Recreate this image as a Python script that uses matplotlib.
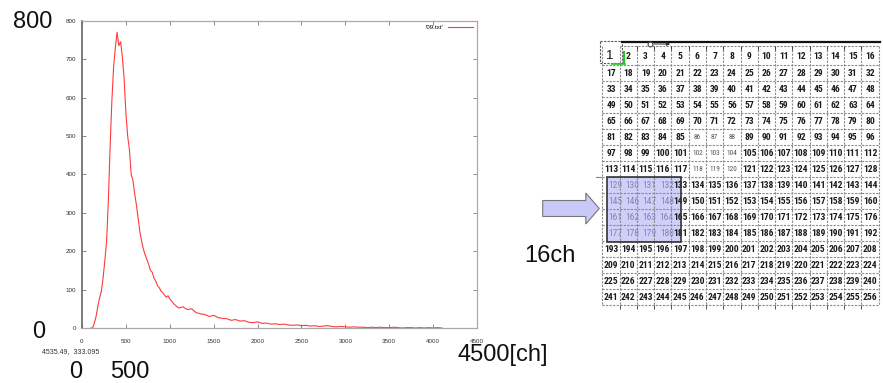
import numpy as np
import matplotlib.pyplot as plt
from matplotlib import patches
from matplotlib import font_manager

plt.rcParams['font.family'] = ['Liberation Sans', 'DejaVu Sans']

# spectrum read from '09.txt' (channel, counts)
channels = [100, 120, 140, 160, 180, 200, 220, 240, 260, 280, 300, 320, 340, 360, 380,
            400, 420, 440, 460, 480, 500, 520, 540, 560, 580, 600, 620, 640, 660, 680,
            700, 720, 740, 760, 780, 800, 820, 840, 860, 880, 900, 920, 940, 960, 980,
            1000, 1050, 1100, 1150, 1200, 1250, 1300, 1350, 1400, 1450, 1500, 1550, 1600,
            1650, 1700, 1750, 1800, 1850, 1900, 1950, 2000, 2050, 2100, 2150, 2200, 2250,
            2300, 2350, 2400, 2450, 2500, 2550, 2600, 2650, 2700, 2750, 2800, 2850, 2900,
            2950, 3000, 3050, 3100, 3150, 3200, 3250, 3300, 3350, 3400, 3450, 3500, 3550,
            3600, 3650, 3700, 3750, 3800, 3850, 3900, 3950, 4000, 4050, 4100]
counts = [0, 0, 12, 30, 55, 78, 95, 130, 175, 225, 330, 470, 590, 680, 730,
          770, 735, 745, 705, 650, 560, 500, 465, 400, 385, 350, 320, 285, 250, 225,
          205, 190, 178, 165, 150, 145, 130, 122, 110, 105, 96, 92, 86, 80, 84,
          76, 62, 52, 55, 48, 50, 40, 37, 35, 30, 33, 27, 25,
          24, 20, 22, 18, 19, 15, 14, 16, 12, 13, 10, 11, 9,
          10, 8, 7, 8, 6, 7, 5, 6, 4, 5, 6, 4, 3,
          4, 3, 2, 3, 2, 2, 1, 2, 1, 2, 1, 1, 2,
          1, 0, 1, 1, 0, 1, 0, 1, 0, 1, 0]

x_ticks = [0, 500, 1000, 1500, 2000, 2500, 3000, 3500, 4000, 4500]
y_ticks = [0, 100, 200, 300, 400, 500, 600, 700, 800]

# 16 x 16 channel map
n_cols = 16
n_rows = 16
cell_ids = np.arange(1, n_cols * n_rows + 1).reshape(n_rows, n_cols)
selected = [129, 130, 131, 132, 145, 146, 147, 148, 161, 162, 163, 164, 177, 178, 179, 180]
faint = [86, 87, 88, 102, 103, 104, 118, 119, 120]

# narrow face for the cell numbers if one is around
names = {f.name for f in font_manager.fontManager.ttflist}
narrow = 'Liberation Sans Narrow' if 'Liberation Sans Narrow' in names else 'Roboto Condensed'
if narrow not in names:
    narrow = 'Liberation Sans'

fig = plt.figure(figsize=(8.83, 3.83), dpi=100)

# --- spectrum ---
ax = fig.add_axes([82 / 883, 55 / 383, 395 / 883, 307.3 / 383])
ax.plot(channels, counts, color='#ff3a3a', lw=0.8, label="'09.txt'")
ax.set_xlim(0, 4500)
ax.set_ylim(0, 800)
ax.set_xticks(x_ticks)
ax.set_yticks(y_ticks)
ax.tick_params(direction='in', length=3, width=0.6, colors='#777777', labelsize=4.5,
               labelcolor='#333333', top=True, right=True, pad=4)
ax.tick_params(axis='x', pad=8)
for side in ax.spines:
    ax.spines[side].set_color('#aaaaaa')
    ax.spines[side].set_linewidth(0.9)
ax.spines['left'].set_color('#666666')
ax.spines['left'].set_linewidth(1.2)
ax.legend(loc='upper right', frameon=False, markerfirst=False, fontsize=4.5,
          handlelength=4, borderaxespad=0.2)

# --- overlay in pixel coordinates ---
ov = fig.add_axes([0, 0, 1, 1], zorder=-1)
ov.set_xlim(0, 883)
ov.set_ylim(383, 0)
ov.axis('off')

big = dict(fontsize=17, color='#111111', va='center')
ov.text(52, 22, '800', ha='right', **big)
ov.text(45, 332, '0', ha='right', **big)
ov.text(76, 372, '0', ha='center', **big)
ov.text(130, 372, '500', ha='center', **big)
ov.text(503, 355, '4500[ch]', ha='center', **big)
ov.text(550, 256, '16ch', ha='center', **big)
ov.text(71, 352, '4535.49,  333.095', ha='center', va='center', fontsize=5, color='#333333')

# arrow into the map
ov.add_patch(patches.FancyArrow(542.7, 208.5, 56.6, 0, width=16, head_width=31,
                                head_length=13.5, length_includes_head=True,
                                facecolor='#c9c9f7', edgecolor='#777777', lw=0.8))

# selected 4x4 block (under the numbers)
ov.add_patch(patches.Rectangle((606.7, 176.5), 74, 65, facecolor='#cfcff8',
                               edgecolor='none', zorder=0.5))
ov.add_patch(patches.Rectangle((606.7, 176.5), 74, 65, fill=False,
                               edgecolor='#333333', lw=1.2, zorder=4))

# channel grid
x0, cw = 602.4, 17.27
row_top = [46, 65] + [65 + 16 * k for k in range(1, 16)]
for r in range(n_rows):
    yc = 56 if r == 0 else 73 + (r - 1) * 16
    for c in range(n_cols):
        cid = cell_ids[r, c]
        if r == 0 and c == 0:
            ov.text(x0 + cw / 2 - 1, yc, str(cid), ha='center', va='center',
                    fontsize=9.5, color='#111111')
            continue
        color = '#1a1a1a'
        size = 6.8
        weight = 'bold'
        shift = 0
        if cid in selected:
            color = '#8484b8'
            weight = 'normal'
            shift = 4
        elif cid in faint:
            color = '#555555'
            size = 5.3
            weight = 'normal'
        ov.text(x0 + cw * (c + 0.5) + shift, yc + 0.5, str(cid), ha='center', va='center',
                fontsize=size, color=color, family=narrow, weight=weight)

dash = dict(color='#8a8a8a', lw=0.8, ls=(0, (2, 1.2)))
for k, y in enumerate(row_top):
    left = x0 + cw if k == 0 else x0
    ov.plot([left, x0 + cw * n_cols], [y, y], **dash)
for c in range(n_cols + 1):
    ov.plot([x0 + cw * c, x0 + cw * c], [46, row_top[-1]], **dash)

# first cell marker and top rule
ov.add_patch(patches.Rectangle((600, 40.7), 21.7, 22.3, fill=False, ec='#555555',
                               lw=0.8, ls=(0, (2, 1.2))))
ov.plot([621.7, 880], [41.5, 41.5], color='#111111', lw=1.6)
ov.plot([624, 624], [52, 63], color='#22cc22', lw=1.5)
ov.plot([612, 625], [63.5, 63.5], color='#22cc22', lw=1.2)
ov.annotate('', xy=(673, 44), xytext=(651, 44),
            arrowprops=dict(arrowstyle='-|>', color='#333333', lw=0.7, mutation_scale=5))
ov.plot([650], [44], marker='o', ms=3.5, mfc='white', mec='#333333', mew=0.7)
for c in range(2, n_cols):
    ov.plot([x0 + cw * c], [47.5], marker='|', ms=3, mew=0.6, color='#333333')
for c in range(1, n_cols):
    ov.plot([x0 + cw * c], [row_top[-1] + 1.5], marker='|', ms=3, mew=0.6, color='#333333')
ov.plot([596, 601], [176.5, 176.5], color='#888888', lw=0.8)

fig.savefig('out.png', dpi=100)
